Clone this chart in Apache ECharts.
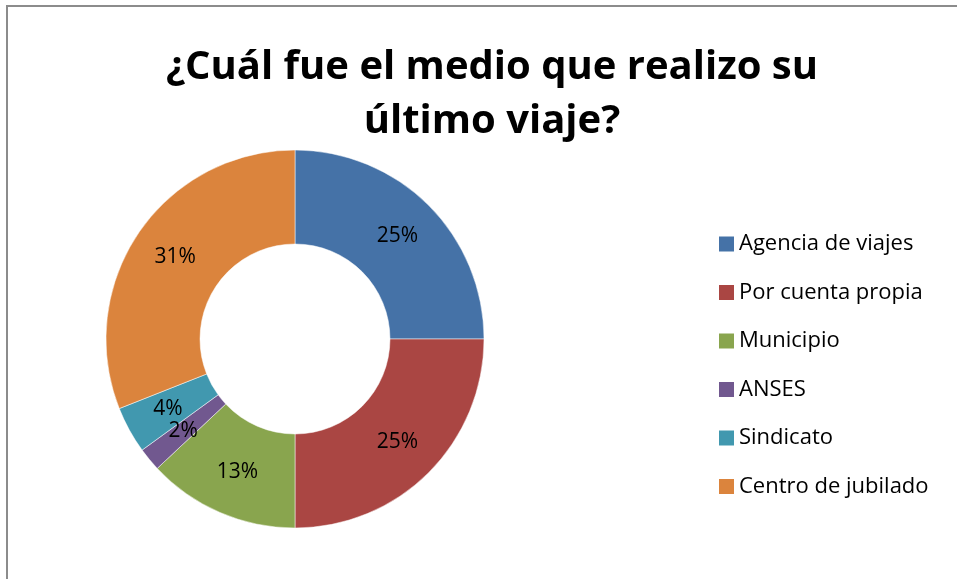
<!DOCTYPE html>
<html lang="es">
<head>
  <meta charset="UTF-8">
  <title>Medio del último viaje</title>
  <script src="https://cdn.jsdelivr.net/npm/echarts@6.0.0/dist/echarts.min.js"></script>
  <style>
    html, body { margin: 0; padding: 0; background: #fff; }
  </style>
</head>
<body>
  <div id="chart" style="width: 957px; height: 579px;"></div>

  <script>
    // datos de la encuesta
    const categorias = ['Agencia de viajes', 'Por cuenta propia', 'Municipio', 'ANSES', 'Sindicato', 'Centro de jubilado']
    const porcentajes = [25, 25, 13, 2, 4, 31]
    const colores = ['#4572A7', '#AA4643', '#89A54E', '#71588F', '#4198AF', '#DB843D']

    const chart = echarts.init(document.getElementById('chart'), null, { renderer: 'canvas' })
    const fuente = '"Open Sans", "Liberation Sans", sans-serif'

    chart.setOption({
      animation: false,
      color: colores,
      // marco gris (solo se ven borde superior e izquierdo)
      graphic: [{
        type: 'rect',
        shape: { x: 7, y: 6, width: 1200, height: 1000 },
        style: { fill: 'none', stroke: '#8c8c8c', lineWidth: 2 },
        silent: true
      }],
      title: {
        text: '¿Cuál fue el medio que realizo su\núltimo viaje?',
        left: 487,
        top: 36,
        textAlign: 'center',
        textStyle: {
          fontFamily: fuente,
          fontWeight: 'bold',
          fontSize: 40,
          lineHeight: 54,
          color: '#000'
        }
      },
      legend: {
        orient: 'vertical',
        left: 719,
        top: 233,
        padding: 0,
        itemWidth: 15,
        itemHeight: 15,
        itemGap: 26.5,
        itemStyle: { borderWidth: 0 },
        icon: 'rect',
        data: categorias,
        textStyle: {
          fontFamily: fuente,
          fontSize: 22,
          color: '#000'
        }
      },
      series: [{
        type: 'pie',
        center: [295, 339],
        radius: [95, 189],
        startAngle: 90,
        clockwise: true,
        avoidLabelOverlap: false,
        itemStyle: { borderColor: '#fff', borderWidth: 0.5 },
        label: {
          show: true,
          position: 'inside',
          formatter: '{c}%',
          fontFamily: fuente,
          fontSize: 21,
          color: '#000'
        },
        labelLine: { show: false },
        emphasis: { disabled: true },
        data: categorias.map((nombre, i) => ({ name: nombre, value: porcentajes[i] }))
      }]
    })
  </script>
</body>
</html>
